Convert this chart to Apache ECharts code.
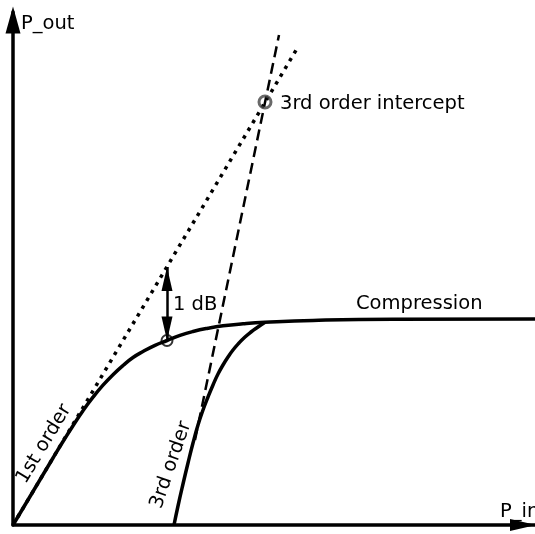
<!DOCTYPE html>
<html>
<head>
<meta charset="utf-8">
<script src="https://cdn.jsdelivr.net/npm/echarts@6/dist/echarts.min.js"></script>
<style>
  html, body { margin: 0; padding: 0; background: #fff; }
  #chart { width: 535px; height: 534px; }
</style>
</head>
<body>
<div id="chart"></div>
<script>
// Amplifier transfer characteristic (arbitrary units, output vs input power)
const linearExtension = [[0, 0], [285, 478]];              // 1st order asymptote
const thirdOrderExtension = [[182, 85], [266, 490]];        // 3rd order asymptote
const compressionCurve = [
  [0, 0], [20, 33.5], [40, 67], [50, 83.5], [60, 99.3], [70, 114.3],
  [80, 127.8], [90, 139.8], [100, 150.3], [110, 159.5], [120, 167.5],
  [130, 173.5], [142, 179.7], [154, 184.5], [167, 189.6], [180, 193.5],
  [195, 196.8], [210, 199.2], [230, 201.2], [252, 202.7], [300, 204.6],
  [380, 205.8], [522, 206]
];
const thirdOrderCurve = [
  [161, 0], [165, 19], [170, 41], [175, 62], [180, 82], [185, 100],
  [190, 115], [195, 128], [200, 140], [205, 151], [210, 160], [215, 168],
  [220, 175], [226, 182], [232, 188], [238, 193], [245, 198], [252, 202.7]
];
const interceptPoint = [252, 423];
const compressionPoint = [154, 184.5];
const oneDbTop = [154, 258];

const chart = echarts.init(document.getElementById('chart'));
const textStyle = { fontFamily: 'DejaVu Sans', fontSize: 19.5, fill: '#000', verticalAlign: 'middle' };
function label(text, x, y, deg, align) {
  return {
    type: 'text', x: x, y: y, rotation: (deg || 0) * Math.PI / 180,
    style: Object.assign({ text: text, align: align || 'left' }, textStyle)
  };
}

chart.setOption({
  animation: false,
  grid: { left: 13, right: 0, top: 12, bottom: 9 },
  xAxis: {
    type: 'value', min: 0, max: 522,
    axisLine: {
      lineStyle: { color: '#000', width: 3.5 },
      symbol: ['none', 'triangle'], symbolSize: [12, 26], symbolOffset: [0, -12]
    },
    axisTick: { show: false }, axisLabel: { show: false }, splitLine: { show: false }
  },
  yAxis: {
    type: 'value', min: 0, max: 513,
    axisLine: {
      lineStyle: { color: '#000', width: 3.5 },
      symbol: ['none', 'triangle'], symbolSize: [15, 27], symbolOffset: [0, -8]
    },
    axisTick: { show: false }, axisLabel: { show: false }, splitLine: { show: false }
  },
  series: [
    {
      type: 'line', data: linearExtension, symbol: 'none', clip: false,
      lineStyle: { color: '#000', width: 3.5, type: [3.5, 5.5], cap: 'butt' }
    },
    {
      type: 'line', data: thirdOrderExtension, symbol: 'none', clip: false,
      lineStyle: { color: '#000', width: 2.5, type: [11, 6], cap: 'butt' }
    },
    {
      type: 'line', data: compressionCurve, symbol: 'none', clip: false,
      smooth: 0.5,
      lineStyle: { color: '#000', width: 3.5 }
    },
    {
      type: 'line', data: thirdOrderCurve, symbol: 'none', clip: false,
      smooth: 0.5,
      lineStyle: { color: '#000', width: 3.5 }
    },
    {
      type: 'line', data: [oneDbTop, compressionPoint], symbol: 'none',
      lineStyle: { opacity: 0 },
      markLine: {
        silent: true, symbol: ['triangle', 'triangle'], symbolSize: [11, 24],
        symbolOffset: [[0, 12], [0, 12]],
        label: { show: false },
        lineStyle: { color: '#000', width: 2.5, type: 'solid' },
        data: [[{ coord: oneDbTop }, { coord: compressionPoint }]]
      }
    },
    {
      type: 'scatter', data: [compressionPoint], symbol: 'circle', symbolSize: 11,
      itemStyle: { color: 'rgba(0,0,0,0)', borderColor: '#000', borderWidth: 2 }, z: 5
    },
    {
      type: 'scatter', data: [interceptPoint], symbol: 'circle', symbolSize: 12,
      itemStyle: { color: 'rgba(0,0,0,0)', borderColor: '#444', borderWidth: 3 }, z: 5
    }
  ],
  graphic: [
    label('P_out', 21, 24),
    label('P_in', 500, 512),
    label('3rd order intercept', 280, 104),
    label('1 dB', 173, 305),
    label('Compression', 356, 304),
    label('1st order', 44, 444, 59, 'center'),
    label('3rd order', 171, 465, 71, 'center')
  ]
});
</script>
</body>
</html>
